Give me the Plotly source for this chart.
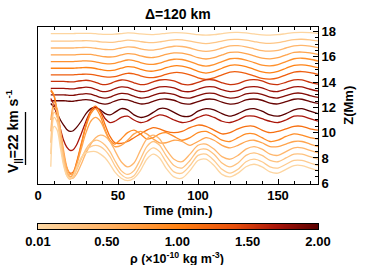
import plotly.graph_objects as go
from plotly.colors import sample_colorscale

# ---------------- data ----------------
T = [8, 10, 12, 14, 16, 18, 20, 22, 24, 27, 30, 33, 36, 39, 42, 45, 48, 52, 56, 60, 64, 68,
     72, 76, 80, 85, 90, 95, 100, 105, 110, 115, 120, 125, 130, 135, 140, 145, 150, 155,
     160, 165, 170, 175]

z01 = [17.83, 17.83, 17.83, 17.83, 17.83, 17.83, 17.83, 17.83, 17.84, 17.85, 17.85, 17.85, 17.82, 17.79, 17.77, 17.76, 17.78, 17.83, 17.88, 17.86, 17.80, 17.76, 17.75, 17.79, 17.85, 17.90, 17.89, 17.83, 17.74, 17.70, 17.74, 17.83, 17.91, 17.92, 17.88, 17.80, 17.73, 17.70, 17.74, 17.83, 17.91, 17.93, 17.90, 17.85]
z02 = [17.24, 17.24, 17.24, 17.24, 17.24, 17.24, 17.24, 17.24, 17.25, 17.26, 17.27, 17.26, 17.23, 17.18, 17.15, 17.14, 17.16, 17.24, 17.31, 17.28, 17.20, 17.13, 17.12, 17.17, 17.26, 17.34, 17.33, 17.24, 17.11, 17.04, 17.11, 17.24, 17.36, 17.37, 17.31, 17.20, 17.09, 17.05, 17.11, 17.24, 17.36, 17.38, 17.34, 17.26]
z03 = [16.69, 16.69, 16.69, 16.69, 16.69, 16.69, 16.69, 16.69, 16.71, 16.72, 16.74, 16.72, 16.67, 16.62, 16.57, 16.56, 16.59, 16.69, 16.78, 16.75, 16.63, 16.54, 16.53, 16.60, 16.72, 16.83, 16.81, 16.69, 16.51, 16.42, 16.51, 16.69, 16.86, 16.87, 16.78, 16.63, 16.48, 16.44, 16.51, 16.69, 16.86, 16.89, 16.83, 16.72]
z04 = [16.14, 16.14, 16.14, 16.14, 16.14, 16.14, 16.14, 16.14, 16.16, 16.18, 16.19, 16.18, 16.12, 16.05, 16.00, 15.98, 16.01, 16.14, 16.25, 16.21, 16.07, 15.96, 15.94, 16.03, 16.18, 16.30, 16.28, 16.14, 15.92, 15.82, 15.92, 16.14, 16.34, 16.36, 16.25, 16.07, 15.89, 15.83, 15.92, 16.14, 16.34, 16.37, 16.30, 16.18]
z05 = [15.62, 15.62, 15.62, 15.62, 15.62, 15.62, 15.62, 15.62, 15.64, 15.66, 15.68, 15.66, 15.60, 15.52, 15.46, 15.44, 15.48, 15.62, 15.74, 15.70, 15.54, 15.42, 15.40, 15.50, 15.66, 15.80, 15.78, 15.62, 15.38, 15.26, 15.38, 15.62, 15.84, 15.86, 15.74, 15.54, 15.34, 15.28, 15.38, 15.62, 15.84, 15.88, 15.80, 15.66]
z06 = [15.09, 15.09, 15.09, 15.09, 15.09, 15.09, 15.09, 15.09, 15.11, 15.13, 15.15, 15.13, 15.07, 14.99, 14.92, 14.90, 14.94, 15.09, 15.22, 15.17, 15.01, 14.88, 14.86, 14.96, 15.13, 15.28, 15.26, 15.09, 14.84, 14.71, 14.84, 15.09, 15.32, 15.34, 15.22, 15.01, 14.80, 14.73, 14.84, 15.09, 15.32, 15.36, 15.28, 15.13]
z07 = [14.57, 14.57, 14.57, 14.57, 14.57, 14.57, 14.57, 14.57, 14.59, 14.61, 14.63, 14.61, 14.55, 14.47, 14.41, 14.39, 14.43, 14.57, 14.69, 14.65, 14.49, 14.37, 14.35, 14.45, 14.61, 14.75, 14.73, 14.57, 14.33, 14.21, 14.33, 14.57, 14.79, 14.81, 14.69, 14.49, 14.29, 14.23, 14.33, 14.57, 14.79, 14.83, 14.75, 14.61]
z08 = [14.05, 14.05, 14.05, 14.05, 14.05, 14.03, 14.01, 14.01, 14.05, 14.10, 14.14, 14.10, 13.98, 13.84, 13.79, 13.87, 14.03, 14.16, 14.12, 13.94, 13.80, 13.84, 14.01, 14.16, 14.19, 14.09, 13.84, 13.79, 13.98, 14.17, 14.16, 13.94, 13.79, 13.87, 14.12, 14.19, 14.09, 13.86, 13.80, 13.98, 14.17, 14.17, 13.98, 13.84]
z09 = [13.50, 13.50, 13.50, 13.50, 13.50, 13.48, 13.46, 13.46, 13.50, 13.55, 13.59, 13.55, 13.43, 13.29, 13.24, 13.32, 13.48, 13.61, 13.57, 13.39, 13.25, 13.29, 13.46, 13.61, 13.64, 13.54, 13.29, 13.24, 13.43, 13.62, 13.61, 13.39, 13.24, 13.32, 13.57, 13.64, 13.54, 13.31, 13.25, 13.43, 13.62, 13.62, 13.43, 13.29]
z10 = [12.99, 12.99, 12.99, 12.99, 12.99, 12.97, 12.95, 12.95, 12.99, 13.04, 13.08, 13.04, 12.92, 12.78, 12.73, 12.81, 12.97, 13.10, 13.06, 12.88, 12.74, 12.78, 12.95, 13.10, 13.13, 13.03, 12.78, 12.73, 12.92, 13.11, 13.10, 12.88, 12.73, 12.81, 13.06, 13.13, 13.03, 12.80, 12.74, 12.92, 13.11, 13.11, 12.92, 12.78]
z11 = [12.52, 12.52, 12.52, 12.52, 12.52, 12.50, 12.48, 12.48, 12.52, 12.57, 12.61, 12.57, 12.45, 12.31, 12.26, 12.34, 12.50, 12.63, 12.59, 12.41, 12.27, 12.31, 12.48, 12.63, 12.66, 12.56, 12.31, 12.26, 12.45, 12.64, 12.63, 12.41, 12.26, 12.34, 12.59, 12.66, 12.56, 12.33, 12.27, 12.45, 12.64, 12.64, 12.45, 12.31]
z12 = [12.30, 12.00, 11.50, 11.00, 10.60, 10.25, 10.10, 10.15, 10.40, 10.90, 11.50, 11.90, 12.00, 11.80, 11.50, 11.40, 11.60, 11.90, 11.80, 11.40, 11.20, 11.30, 11.60, 11.90, 11.90, 11.60, 11.30, 11.30, 11.70, 11.90, 11.80, 11.50, 11.30, 11.50, 11.80, 11.90, 11.70, 11.40, 11.30, 11.50, 11.80, 11.90, 11.70, 11.50]
z13 = [12.70, 12.20, 11.30, 10.30, 9.40, 8.85, 8.60, 8.65, 9.00, 9.90, 10.90, 11.70, 12.00, 11.70, 11.10, 10.80, 10.90, 11.20, 11.30, 11.00, 10.80, 10.90, 11.20, 11.40, 11.30, 11.00, 10.80, 10.90, 11.20, 11.40, 11.20, 10.90, 10.80, 11.00, 11.30, 11.30, 11.10, 10.90, 10.80, 11.00, 11.30, 11.30, 11.10, 10.90]
z14 = [13.30, 12.90, 11.50, 9.80, 8.30, 7.20, 6.80, 6.90, 7.60, 9.10, 10.60, 11.70, 12.10, 11.60, 10.60, 9.70, 9.20, 9.15, 9.30, 9.60, 9.90, 10.20, 10.40, 10.30, 10.10, 10.00, 10.10, 10.40, 10.60, 10.50, 10.20, 9.90, 10.00, 10.30, 10.50, 10.50, 10.20, 10.00, 10.10, 10.30, 10.50, 10.50, 10.30, 10.20]
z15 = [13.40, 13.00, 11.50, 9.60, 7.90, 6.80, 6.50, 6.70, 7.50, 9.00, 10.50, 11.50, 11.90, 11.30, 10.20, 9.40, 9.10, 9.50, 10.00, 10.20, 9.90, 9.50, 9.60, 9.90, 10.00, 9.70, 9.40, 9.60, 10.00, 10.10, 9.80, 9.40, 9.30, 9.60, 9.90, 9.90, 9.60, 9.30, 9.40, 9.70, 9.90, 9.80, 9.60, 9.50]
z16 = [11.00, 12.40, 11.90, 10.30, 8.60, 7.30, 6.70, 6.80, 7.40, 8.70, 10.00, 10.90, 11.20, 10.90, 10.10, 9.30, 8.90, 9.00, 9.40, 9.90, 10.10, 9.90, 9.50, 9.20, 9.20, 9.40, 9.30, 9.00, 9.30, 9.60, 9.40, 9.00, 8.80, 9.00, 9.30, 9.40, 9.20, 8.90, 8.90, 9.10, 9.30, 9.30, 9.10, 8.90]
z17 = [10.10, 12.00, 11.60, 10.00, 8.30, 7.00, 6.50, 6.40, 6.70, 7.50, 8.40, 9.10, 9.60, 9.80, 9.70, 9.30, 8.60, 7.70, 7.30, 7.60, 8.60, 9.50, 9.80, 9.50, 8.70, 7.90, 7.70, 8.30, 9.00, 9.10, 8.70, 8.10, 7.90, 8.20, 8.70, 8.90, 8.70, 8.30, 8.20, 8.50, 8.80, 8.80, 8.60, 8.40]
z18 = [9.20, 11.60, 11.20, 9.60, 7.90, 6.80, 6.40, 6.50, 7.00, 7.90, 8.70, 9.20, 9.40, 9.30, 9.00, 8.50, 7.80, 7.00, 6.70, 7.00, 7.90, 8.90, 9.30, 9.00, 8.20, 7.40, 7.20, 7.80, 8.60, 8.70, 8.30, 7.60, 7.30, 7.60, 8.20, 8.40, 8.20, 7.80, 7.70, 8.00, 8.30, 8.30, 8.10, 7.90]
z19 = [8.30, 11.20, 10.80, 9.20, 7.60, 6.60, 6.30, 6.50, 7.10, 8.00, 8.60, 8.90, 9.00, 8.90, 8.60, 8.10, 7.40, 6.70, 6.40, 6.60, 7.40, 8.40, 8.80, 8.50, 7.70, 6.90, 6.80, 7.40, 8.20, 8.30, 7.80, 7.10, 6.80, 7.10, 7.70, 7.90, 7.70, 7.30, 7.20, 7.50, 7.80, 7.80, 7.60, 7.40]
z20 = [7.30, 10.50, 10.20, 8.80, 7.40, 6.60, 6.40, 6.60, 7.20, 8.00, 8.40, 8.50, 8.50, 8.30, 8.00, 7.50, 6.90, 6.40, 6.20, 6.40, 7.00, 7.90, 8.30, 8.00, 7.20, 6.50, 6.40, 7.00, 7.80, 7.90, 7.40, 6.70, 6.50, 6.80, 7.30, 7.50, 7.30, 6.90, 6.80, 7.10, 7.40, 7.40, 7.20, 7.00]

series = [z01, z02, z03, z04, z05, z06, z07, z08, z09, z10, z11, z12, z13, z14, z15, z16, z17, z18, z19, z20]
rho = [0.05, 0.25, 0.45, 0.65, 0.85, 1.0, 1.3, 1.55, 1.75, 1.85, 1.95, 2.0, 1.7, 1.15, 0.9, 0.65, 0.45, 0.3, 0.18, 0.05]

cb_ticks = [0.01, 0.5, 1.0, 1.5, 2.0]
cb_text = ["0.01", "0.50", "1.00", "1.50", "2.00"]
x_ticks = [0, 50, 100, 150]
z_ticks = [6, 8, 10, 12, 14, 16, 18]

# ---------------- style ----------------
CS = [[0.0, "rgb(253,216,165)"], [0.25, "rgb(255,178,100)"], [0.5, "rgb(255,130,20)"],
      [0.7, "rgb(232,80,12)"], [0.85, "rgb(170,22,10)"], [1.0, "rgb(90,0,0)"]]
RMIN, RMAX = 0.01, 2.0
FONT = "Liberation Sans, Arial, Helvetica, sans-serif"
BOLD13 = dict(family=FONT, size=13, color="black", weight="bold")

W, H = 374, 265
ML, MR, MT, MB = 38, 56, 27, 36
PW = W - ML - MR
PH = H - MT - MB
PLOT_BOTTOM = 183.5   # pixel row of main x axis
CB_TOP = 224.0        # pixel row of colour bar top


def py(y):
    return (H - MB - y) / PH


def px(x):
    return (x - ML) / PW


fig = go.Figure()
for zs, r in zip(series, rho):
    col = sample_colorscale(CS, [(r - RMIN) / (RMAX - RMIN)])[0]
    fig.add_trace(go.Scatter(x=T, y=zs, mode="lines", xaxis="x", yaxis="y",
                             line=dict(color=col, width=1.3, shape="spline", smoothing=0.8),
                             showlegend=False, hoverinfo="skip"))

# colour bar drawn as a heatmap strip on its own axis, using the same colour scale
n_cb = 300
cb_vals = [RMIN + (RMAX - RMIN) * (k + 0.5) / n_cb for k in range(n_cb)]
fig.add_trace(go.Heatmap(z=[cb_vals], x=cb_vals, y=[0], xaxis="x2", yaxis="y2",
                         colorscale=CS, zmin=RMIN, zmax=RMAX, showscale=False,
                         hoverinfo="skip"))

fig.update_layout(
    width=W, height=H, margin=dict(l=ML, r=MR, t=MT, b=MB),
    paper_bgcolor="white", plot_bgcolor="white",
    font=dict(family=FONT, size=13, color="black"),
    xaxis=dict(domain=[0, 1], anchor="y", range=[0, 175], tickvals=x_ticks,
               ticks="inside", ticklen=5, tickcolor="black",
               showline=True, linecolor="black", linewidth=1, mirror="allticks",
               showgrid=False, zeroline=False, automargin=False,
               minor=dict(ticks="inside", dtick=10, tick0=0, ticklen=3, tickcolor="black", showgrid=False),
               tickfont=BOLD13,
               title=dict(text="Time (min.)", standoff=3, font=BOLD13)),
    yaxis=dict(domain=[py(PLOT_BOTTOM), 1], anchor="x", range=[5.98, 18.35], side="right",
               tickvals=z_ticks, ticks="inside", ticklen=5, tickcolor="black",
               showline=True, linecolor="black", linewidth=1, mirror=True,
               showgrid=False, zeroline=False, automargin=False,
               minor=dict(ticks="inside", dtick=0.5, ticklen=3, tickcolor="black", showgrid=False),
               tickfont=BOLD13,
               title=dict(text="Z(Mm)", standoff=8, font=BOLD13)),
    xaxis2=dict(domain=[0, 1], anchor="y2", range=[RMIN, RMAX], tickvals=cb_ticks, ticktext=cb_text,
                ticks="", showline=True, linecolor="black", linewidth=1, mirror=True,
                showgrid=False, zeroline=False, automargin=False, tickfont=BOLD13),
    yaxis2=dict(domain=[0, py(CB_TOP)], anchor="x2", range=[-0.5, 0.5], showticklabels=False,
                ticks="", showline=True, linecolor="black", linewidth=1, mirror=True,
                showgrid=False, zeroline=False, automargin=False),
    annotations=[
        dict(text="Δ=120 km", xref="paper", yref="paper", x=px(177.5), y=py(14),
             showarrow=False, xanchor="center", yanchor="middle",
             font=dict(family=FONT, size=14, weight="bold")),
        dict(text="V<sub>||</sub>=22 km s<sup>-1</sup>", xref="paper", yref="paper",
             x=px(13), y=py(131), textangle=-90, showarrow=False,
             xanchor="center", yanchor="middle", font=dict(family=FONT, size=14, weight="bold")),
        dict(text="ρ (×10<sup>-10</sup> kg m<sup>-3</sup>)", xref="paper", yref="paper",
             x=px(177), y=py(257.5), showarrow=False, xanchor="center", yanchor="middle",
             font=dict(family=FONT, size=12.5, color="black", weight="bold")),
    ],
    shapes=[dict(type="line", xref="paper", yref="paper", x0=px(25.5), x1=px(25.5),
                 y0=py(165), y1=py(112), line=dict(color="black", width=1.3))],
)

fig.write_html("out.html", config={"displayModeBar": False, "staticPlot": True},
               post_script="document.body.style.margin='0px';document.body.style.padding='0px';"
                           "document.documentElement.style.overflow='hidden';")
